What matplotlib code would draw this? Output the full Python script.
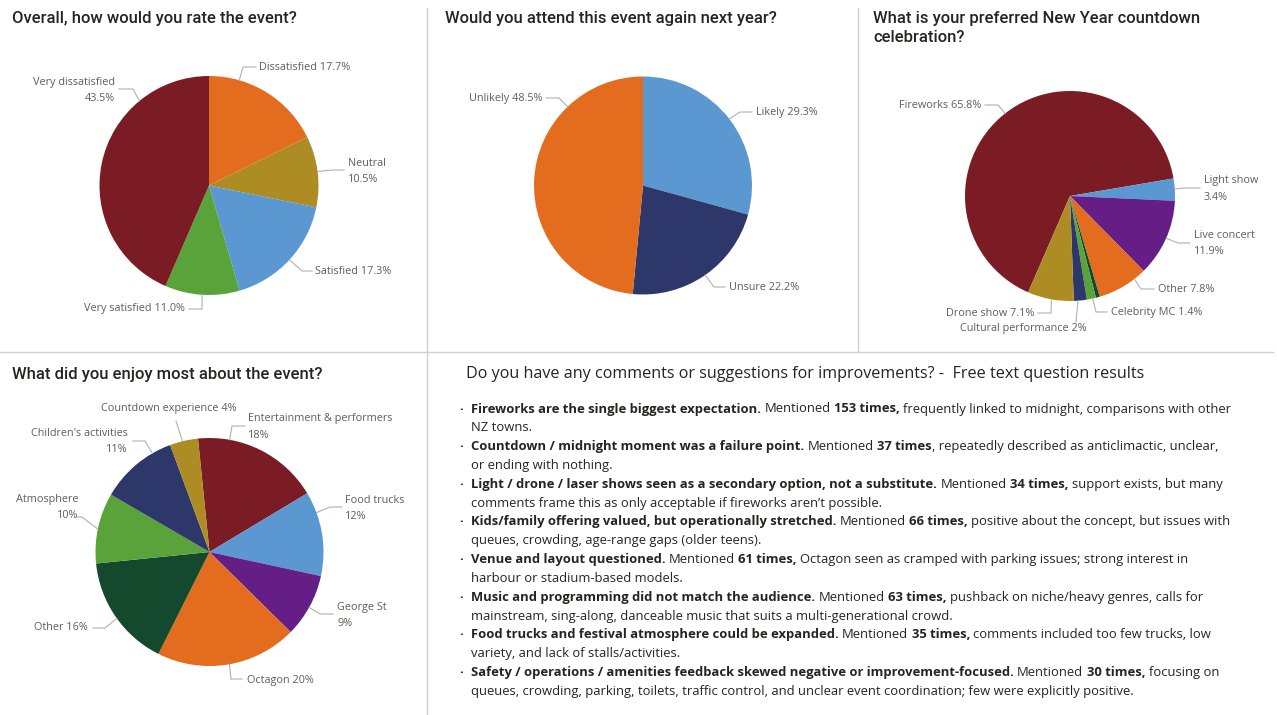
import matplotlib
matplotlib.use('Agg')
import matplotlib.pyplot as plt
import numpy as np

W, H = 1277, 715

# --- survey results ---------------------------------------------------------
rating_names = ['Dissatisfied', 'Neutral', 'Satisfied', 'Very satisfied', 'Very dissatisfied']
rating_pct = [17.7, 10.5, 17.3, 11.0, 43.5]

attend_names = ['Likely', 'Unsure', 'Unlikely']
attend_pct = [29.3, 22.2, 48.5]

pref_names = ['Fireworks', 'Light show', 'Live concert', 'Other', '(blank)',
              'Celebrity MC', 'Cultural performance', 'Drone show']
pref_pct = [65.8, 3.4, 11.9, 7.8, 0.6, 1.4, 2, 7.1]

enjoy_names = ['Entertainment & performers', 'Food trucks', 'George St', 'Octagon',
               'Other', 'Atmosphere', "Children's activities", 'Countdown experience']
enjoy_pct = [18, 12, 9, 20, 16, 10, 11, 4]

# free text themes
themes = [
    'Fireworks are the single biggest expectation.',
    'Countdown / midnight moment was a failure point.',
    'Light / drone / laser shows seen as a secondary option, not a substitute.',
    'Kids/family offering valued, but operationally stretched.',
    'Venue and layout questioned.',
    'Music and programming did not match the audience.',
    'Food trucks and festival atmosphere could be expanded.',
    'Safety / operations / amenities feedback skewed negative or improvement-focused.',
]
mentions = [153, 37, 34, 66, 61, 63, 35, 30]
mention_suffix = [',', '', ',', ',', ',', ',', ',', ',']
detail_first = [
    'frequently linked to midnight, comparisons with other',
    ', repeatedly described as anticlimactic, unclear,',
    'support exists, but many',
    'positive about the concept, but issues with',
    'Octagon seen as cramped with parking issues; strong interest in',
    'pushback on niche/heavy genres, calls for',
    'comments included too few trucks, low',
    'focusing on',
]
detail_rest = [
    'NZ towns.',
    'or ending with nothing.',
    'comments frame this as only acceptable if fireworks aren\u2019t possible.',
    'queues, crowding, age-range gaps (older teens).',
    'harbour or stadium-based models.',
    'mainstream, sing-along, danceable music that suits a multi-generational crowd.',
    'variety, and lack of stalls/activities.',
    'queues, crowding, parking, toilets, traffic control, and unclear event coordination; few were explicitly positive.',
]

# --- styling ----------------------------------------------------------------
MAROON, ORANGE, OLIVE, BLUE = '#7B1C24', '#E46C1E', '#AD8C24', '#5B97D0'
GREEN, NAVY, PURPLE, DKGREEN = '#5AA33A', '#2D376A', '#661E87', '#15492E'
TITLE_C, LABEL_C, LEADER_C, RULE_C = '#252423', '#605E5C', '#B3B0AD', '#D2D0CE'

TITLE_FONT = dict(family='Roboto', weight='medium', fontsize=12, color=TITLE_C)
LABEL_FONT = dict(family='Open Sans', fontsize=7.8, color=LABEL_C)
BODY_FONT = 'Open Sans'
BODY_SIZE = 9.4

fig = plt.figure(figsize=(W / 100, H / 100), dpi=100)
ax = fig.add_axes([0, 0, 1, 1])


def py(y):
    # layout is written top-down in pixels
    return H - y


def draw_pie(values, names, colors, cx, cy, r, start, fmt, layout):
    ax.pie(values, colors=colors, radius=r, center=(cx, py(cy)),
           startangle=90 - start, counterclock=False,
           wedgeprops=dict(linewidth=0))
    for name, v, lay in zip(names, values, layout):
        if lay is None:
            continue
        ang, ex, ey, lx, tx, ty, ha, wrap = lay
        t = np.radians(ang)
        x0, y0 = cx + r * np.sin(t), cy - r * np.cos(t)
        ax.plot([x0, ex, lx], [py(y0), py(ey), py(ey)], color=LEADER_C, lw=0.8)
        pct = fmt.format(v)
        lines = [name, pct] if wrap else [f'{name} {pct}']
        for i, s in enumerate(lines):
            yy = ty + (i - (len(lines) - 1) / 2) * 16
            ax.text(tx, py(yy), s, ha=ha, va='center', **LABEL_FONT)


# angle (clockwise from 12 o'clock), elbow x/y, line end x, text x/y, align, wrap
rating_layout = [
    (16, 243, 67, 256, 259, 68, 'left', False),
    (82.6, 333, 170, 344, 348, 171, 'left', True),
    (132.7, 302, 271, 312, 315, 271, 'left', False),
    (183.6, 202, 309, 189, 185, 309, 'right', False),
    (320.6, 133, 89, 119, 115, 90.5, 'right', True),
]
attend_layout = [
    (52.4, 740, 112, 752, 756, 112, 'left', False),
    (145.3, 714, 287, 725, 729, 287, 'left', False),
    (316.3, 559, 98, 546, 542, 98, 'right', False),
]
pref_layout = [
    (321.8, 998, 105, 985, 981, 105, 'right', False),
    (86.2, 1185, 188, 1200, 1204, 189, 'left', True),
    (113.7, 1178, 243, 1190, 1194, 244, 'left', True),
    (142.2, 1141, 289, 1154, 1158, 289, 'left', False),
    None,
    (167.5, 1096, 312, 1107, 1111, 312, 'left', False),
    (175.6, 1076, 322, 1076, 1023, 329, 'center', False),
    (190.2, 1051, 313, 1038, 1034, 313, 'right', False),
]
enjoy_layout = [
    (10.2, 232, 426, 245, 248, 427, 'left', True),
    (69.8, 330, 507, 342, 345, 508.5, 'left', True),
    (119.1, 320, 614, 333, 337, 615.5, 'left', True),
    (169.9, 231, 679, 242, 247, 680, 'left', False),
    (234.3, 105, 628, 93, 88, 628, 'right', False),
    (281.6, 82, 517, 77, 78, 507.5, 'right', True),
    (329.9, 145, 441, 133, 128, 442, 'right', True),
    (346.3, 176, 421, 176, 101, 409, 'left', False),
]

draw_pie(rating_pct, rating_names, [ORANGE, OLIVE, BLUE, GREEN, MAROON],
         209, 185.5, 109.5, 0, '{:.1f}%', rating_layout)
draw_pie(attend_pct, attend_names, [BLUE, NAVY, ORANGE],
         643, 185.5, 109, 0, '{:.1f}%', attend_layout)
draw_pie(pref_pct, pref_names, [MAROON, BLUE, PURPLE, ORANGE, DKGREEN, GREEN, NAVY, OLIVE],
         1070, 196, 105, 203.5, '{:g}%', pref_layout)
draw_pie(enjoy_pct, enjoy_names, [MAROON, BLUE, PURPLE, ORANGE, DKGREEN, GREEN, NAVY, OLIVE],
         209.5, 552, 114, -5.8, '{:g}%', enjoy_layout)

ax.set_xlim(0, W)
ax.set_ylim(0, H)
ax.set_aspect('auto')
ax.axis('off')

# panel titles
ax.text(12, py(19), 'Overall, how would you rate the event?', va='center', **TITLE_FONT)
ax.text(445, py(19), 'Would you attend this event again next year?', va='center', **TITLE_FONT)
ax.text(873, py(19), 'What is your preferred New Year countdown', va='center', **TITLE_FONT)
ax.text(873, py(38), 'celebration?', va='center', **TITLE_FONT)
ax.text(12, py(375), 'What did you enjoy most about the event?', va='center', **TITLE_FONT)

# panel dividers
ax.plot([427, 427], [py(8), py(H)], color=RULE_C, lw=1)
ax.plot([858, 858], [py(8), py(352)], color=RULE_C, lw=1)
ax.plot([0, 1273], [py(352), py(352)], color=RULE_C, lw=1)

# free text summary
ax.text(466, py(374), 'Do you have any comments or suggestions for improvements? -  Free text question results',
        va='center', family=BODY_FONT, fontsize=11.6, color=TITLE_C)

renderer = fig.canvas.get_renderer()


def text_width(s, weight):
    t = ax.text(0, 0, s, family=BODY_FONT, fontsize=BODY_SIZE, weight=weight)
    w = t.get_window_extent(renderer).width
    t.remove()
    return w


def run(x, y, parts):
    # draw a line made of (text, bold) pieces one after another
    for s, bold in parts:
        weight = 'bold' if bold else 'normal'
        lead = len(s) - len(s.lstrip(' '))
        trail = len(s) - len(s.rstrip(' '))
        space = text_width('a a', weight) - text_width('aa', weight)
        x += lead * space
        core = s.strip(' ')
        if core:
            t = ax.text(x, py(y), core, va='center', family=BODY_FONT, fontsize=BODY_SIZE,
                        weight=weight, color=TITLE_C)
            x += t.get_window_extent(renderer).width
        x += trail * space


y = 409
for head, n, suf, first, rest in zip(themes, mentions, mention_suffix, detail_first, detail_rest):
    ax.text(461, py(y), '\u00b7', va='center', ha='center', family=BODY_FONT,
            fontsize=BODY_SIZE, weight='bold', color=TITLE_C)
    sep = '' if first.startswith(',') else ' '
    run(471, y, [(head, True), (' Mentioned ', False), (f'{n} times{suf}', True),
                 (sep + first, False)])
    run(471, y + 18.83, [(rest, False)])
    y += 2 * 18.83

fig.savefig('out.png', dpi=100)
